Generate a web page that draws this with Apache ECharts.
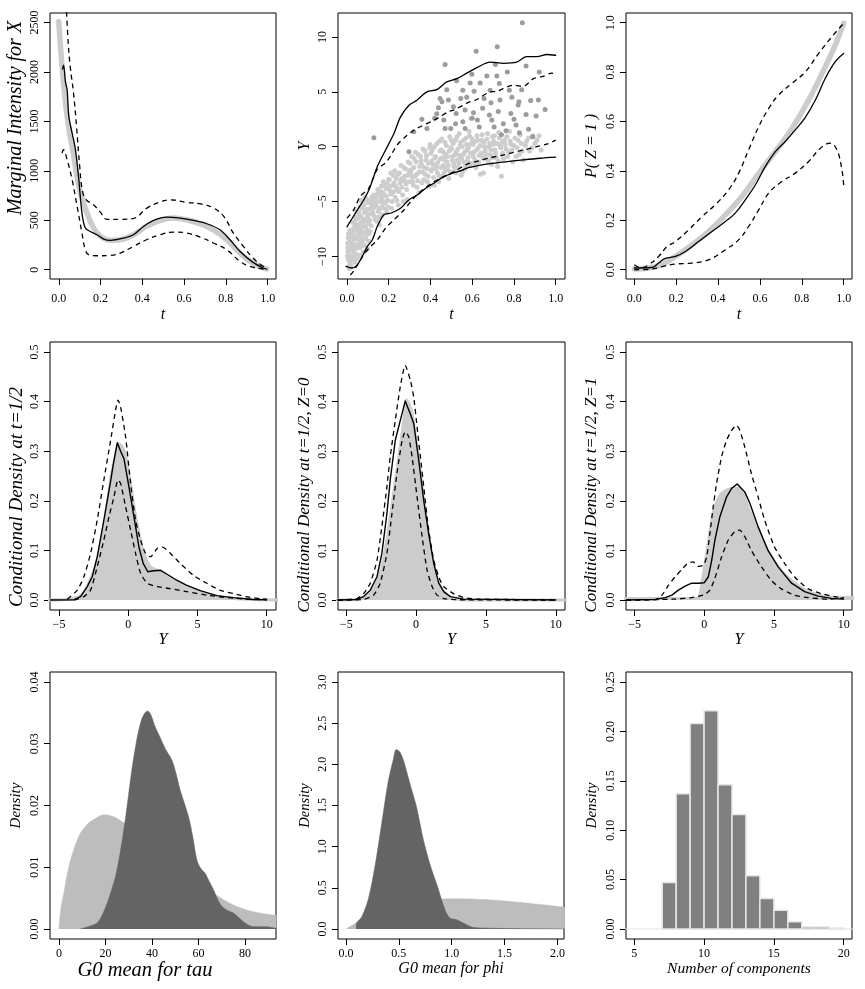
<!DOCTYPE html>
<html><head><meta charset="utf-8">
<script src="https://cdn.jsdelivr.net/npm/echarts@6/dist/echarts.min.js"></script>
<style>html,body{margin:0;padding:0;background:#fff}#c{width:865px;height:989px}</style>
</head><body><div id="c"></div>
<script>
// ---------- DATA ----------
// Panel 1: marginal intensity for X
const p1True = [[0,2510],[0.016,2055],[0.04,1550],[0.072,1145],[0.10,810],[0.135,573],[0.167,421],[0.2,337],[0.247,297],[0.295,303],[0.358,354],[0.42,438],[0.486,499],[0.55,522],[0.613,505],[0.677,465],[0.74,404],[0.804,303],[0.868,168],[0.93,67],[0.995,7]];
const p1Est = [[0.018,2030],[0.023,2070],[0.032,1900],[0.04,1820],[0.048,1550],[0.064,1381],[0.08,1213],[0.096,910],[0.111,573],[0.127,421],[0.151,387],[0.183,354],[0.215,310],[0.247,297],[0.31,320],[0.358,354],[0.406,438],[0.454,499],[0.518,532],[0.581,522],[0.645,499],[0.709,465],[0.772,404],[0.82,303],[0.868,185],[0.93,74],[0.979,17],[0.995,7]];
const p1Up = [[0.035,2700],[0.045,2300],[0.055,2050],[0.07,1800],[0.085,1450],[0.1,1050],[0.115,780],[0.135,700],[0.165,660],[0.2,580],[0.23,510],[0.3,510],[0.36,520],[0.42,620],[0.49,690],[0.535,707],[0.61,682],[0.68,665],[0.74,625],[0.79,540],[0.836,370],[0.884,236],[0.93,118],[0.975,40],[1.0,17]];
const p1Lo = [[0.016,1180],[0.022,1215],[0.04,1112],[0.064,910],[0.088,640],[0.111,371],[0.127,202],[0.143,152],[0.183,141],[0.247,145],[0.295,168],[0.358,236],[0.42,303],[0.486,354],[0.55,381],[0.613,371],[0.677,330],[0.74,270],[0.804,202],[0.868,84],[0.915,34],[0.979,7],[1.0,5]];

// Panel 2: Y vs t scatter (Z=0 light, Z=1 dark) and bands
const p2Light = [[0.003,-8.8],[0.005,-9.6],[0.007,-10.3],[0.009,-10.9],[0.011,-11.1],[0.004,-9.2],[0.013,-9.9],[0.015,-10.6],[0.006,-8.3],[0.017,-9.4],[0.019,-10.8],[0.012,-8.6],[0.008,-7.9],[0.016,-8.1],
[0.022,-8.0],[0.025,-8.7],[0.027,-9.4],[0.03,-10.1],[0.032,-7.4],[0.035,-9.0],[0.037,-10.5],[0.04,-8.4],[0.042,-7.1],[0.045,-9.8],[0.047,-8.9],[0.049,-7.7],[0.028,-6.9],[0.038,-6.4],[0.044,-5.9],
[0.052,-6.5],[0.055,-7.2],[0.057,-7.9],[0.06,-8.5],[0.062,-9.2],[0.065,-6.9],[0.067,-7.6],[0.07,-8.2],[0.072,-5.6],[0.074,-8.8],[0.076,-7.0],[0.078,-9.6],[0.058,-6.1],[0.068,-4.9],[0.079,-5.2],
[0.082,-5.3],[0.085,-6.0],[0.088,-6.7],[0.09,-7.3],[0.093,-8.0],[0.096,-5.7],[0.099,-6.4],[0.102,-7.0],[0.105,-8.6],[0.108,-4.9],[0.111,-7.7],[0.115,-6.1],[0.118,-5.4],[0.087,-4.6],[0.097,-9.3],
[0.122,-5.0],[0.126,-5.6],[0.13,-6.3],[0.134,-4.6],[0.138,-5.2],[0.142,-6.8],[0.146,-4.3],[0.15,-5.9],[0.155,-7.1],[0.158,-5.0],
[0.162,-4.1],[0.166,-4.7],[0.17,-5.4],[0.174,-3.2],[0.178,-4.4],[0.182,-5.1],[0.187,-3.8],[0.191,-6.0],[0.196,-4.9],[0.199,-3.0],
[0.203,-3.0],[0.207,-3.6],[0.212,-4.3],[0.216,-5.0],[0.221,-2.6],[0.226,-3.3],[0.231,-4.6],[0.236,-2.9],[0.241,-3.9],[0.246,-5.3],
[0.252,-2.4],[0.257,-3.0],[0.262,-3.7],[0.267,-4.4],[0.272,-1.9],[0.277,-2.7],[0.283,-3.4],[0.288,-4.8],[0.293,-1.4],[0.298,-2.2],
[0.302,-1.5],[0.307,-2.1],[0.312,-2.8],[0.318,-3.5],[0.323,-1.1],[0.328,-0.5],[0.334,-2.5],[0.339,-3.1],[0.344,-4.2],[0.348,-1.8],
[0.352,-0.9],[0.357,-1.6],[0.362,-2.3],[0.368,-3.0],[0.373,-0.4],[0.378,-1.2],[0.384,-2.0],[0.389,-2.7],[0.394,-3.6],[0.398,0.2],
[0.402,-0.6],[0.406,-1.3],[0.41,-2.0],[0.415,-2.8],[0.419,0.0],[0.424,-0.9],[0.429,-1.7],[0.434,-2.4],[0.439,-3.2],[0.443,0.5],[0.448,-1.1],
[0.452,-0.3],[0.456,-1.0],[0.461,-1.7],[0.465,-2.4],[0.469,0.4],[0.474,-0.7],[0.479,-1.4],[0.483,-2.1],[0.488,-2.9],[0.492,0.9],[0.497,-0.1],
[0.502,-0.2],[0.506,-0.9],[0.511,-1.5],[0.515,-2.2],[0.52,0.6],[0.524,-0.5],[0.529,-1.2],[0.533,-1.9],[0.538,1.2],[0.543,0.1],[0.547,-2.6],
[0.552,0.0],[0.557,-0.7],[0.561,-1.4],[0.566,-2.0],[0.571,0.8],[0.575,-0.3],[0.58,-1.0],[0.585,1.4],[0.589,-1.7],[0.594,0.3],[0.593,2.58],
[0.603,0.2],[0.608,-0.5],[0.613,-1.2],[0.618,-1.9],[0.623,1.0],[0.629,-0.1],[0.634,-0.8],[0.639,-2.5],[0.645,0.6],[0.654,-2.4],
[0.656,0.4],[0.662,-0.4],[0.668,-1.1],[0.674,1.2],[0.68,0.0],[0.686,-0.7],[0.692,-1.6],[0.697,0.9],
[0.703,0.5],[0.709,-0.3],[0.715,-1.0],[0.721,-1.8],[0.727,1.3],[0.733,0.1],[0.74,-2.7],[0.746,-0.6],
[0.754,0.6],[0.762,-0.2],[0.77,-0.9],[0.778,1.4],[0.786,0.2],[0.794,-1.4],
[0.805,0.8],[0.815,-0.1],[0.825,-0.7],[0.835,0.3],[0.845,-1.2],
[0.86,0.5],[0.875,-0.4],[0.89,1.0],[0.91,0.6],[0.93,-0.3],
[0.002,-10.0],[0.01,-9.0],[0.014,-7.6],[0.018,-8.9],[0.021,-10.2],[0.024,-9.1],[0.026,-7.7],[0.029,-8.3],[0.033,-9.7],[0.036,-8.1],[0.039,-7.0],[0.041,-9.3],[0.043,-6.6],[0.046,-8.2],[0.048,-10.2],[0.051,-7.4],[0.053,-8.9],[0.056,-6.0],[0.059,-7.5],[0.061,-9.9],[0.063,-5.5],[0.066,-8.0],[0.069,-6.4],[0.071,-9.0],[0.073,-7.3],[0.075,-5.0],[0.077,-8.4],[0.08,-6.6],[0.083,-7.8],[0.086,-9.0],[0.089,-5.8],[0.091,-8.4],[0.094,-4.8],[0.098,-7.6],[0.1,-6.1],[0.103,-5.1],[0.106,-7.9],[0.109,-6.7],[0.113,-5.7],[0.116,-7.2],[0.119,-4.6],
[0.124,-6.0],[0.128,-4.4],[0.132,-5.4],[0.136,-6.6],[0.14,-4.9],[0.144,-5.5],[0.148,-3.9],[0.152,-6.4],[0.157,-4.5],[0.161,-5.6],[0.165,-3.6],[0.169,-6.2],[0.173,-4.2],[0.177,-5.0],[0.181,-3.5],[0.185,-5.7],[0.189,-4.5],[0.193,-3.4],[0.197,-5.5],[0.205,-4.0],[0.21,-2.4],[0.214,-5.6],[0.219,-3.5],[0.224,-4.1],[0.229,-2.2],[0.234,-3.6],[0.239,-4.9],[0.244,-2.5],[0.249,-4.1],[0.255,-3.3],[0.26,-1.7],[0.265,-2.9],[0.27,-5.0],[0.275,-3.1],[0.28,-2.0],[0.286,-3.9],[0.291,-2.6],[0.296,-3.2],
[0.305,-2.4],[0.31,-0.9],[0.315,-3.2],[0.32,-1.9],[0.326,-2.7],[0.331,-1.4],[0.336,-3.7],[0.341,-0.7],[0.346,-2.3],[0.354,-1.3],[0.359,-3.3],[0.364,-0.2],[0.37,-1.9],[0.375,-2.5],[0.381,-0.8],[0.386,-3.2],[0.391,-1.5],[0.396,-0.1],[0.404,-2.2],[0.408,-0.3],[0.412,-1.6],[0.417,-3.5],[0.421,-1.0],[0.426,-2.0],[0.431,0.3],[0.436,-1.4],[0.441,-2.7],[0.446,-0.4],[0.45,-1.9],[0.454,0.7],[0.458,-2.7],[0.463,-0.5],[0.467,-1.2],[0.472,-2.0],[0.476,0.1],[0.481,-0.9],[0.486,-1.7],[0.49,-0.4],[0.495,-2.3],[0.499,0.6],[0.504,-1.2],[0.509,0.3],[0.513,-1.8],[0.518,-0.7],[0.522,-2.4],[0.527,0.9],[0.531,-0.2],[0.536,-1.5],[0.54,-0.8],[0.545,0.4],[0.55,-1.1],[0.554,-2.3],[0.559,0.6],[0.563,-0.5],[0.568,-1.7],[0.573,0.2],[0.578,-1.3],[0.582,-0.1],[0.587,1.0],[0.591,-0.6],[0.596,-1.5],
[0.6,0.7],[0.605,-0.9],[0.61,0.4],[0.615,-1.6],[0.62,-0.3],[0.626,0.6],[0.631,-1.4],[0.637,0.1],[0.642,-0.6],[0.648,1.1],[0.652,-1.0],[0.659,0.0],[0.665,-0.7],[0.671,0.7],[0.677,-1.3],[0.683,0.3],[0.689,-0.3],[0.695,-1.0],[0.7,0.2],[0.706,1.0],[0.712,-0.6],[0.718,0.3],[0.724,-1.3],[0.73,0.8],[0.737,-0.1],[0.743,0.4],[0.75,-1.1],[0.758,0.2],[0.766,0.9],[0.774,-0.5],[0.782,0.5],[0.79,-0.3],[0.8,0.1],[0.81,-0.9],[0.82,0.6],[0.83,1.1],[0.84,-0.4],[0.855,0.1],[0.87,0.8],[0.885,-0.1],[0.9,0.3],[0.92,1.0]];
const p2Dark = [[0.84,11.3],[0.72,9.1],[0.619,8.7],[0.47,7.5],[0.858,7.36],[0.711,7.5],[0.768,6.8],[0.921,6.8],[0.598,6.6],[0.67,6.45],[0.718,6.45],[0.638,5.8],[0.73,5.76],[0.555,5.15],[0.478,5.2],[0.609,5.06],[0.686,5.15],[0.778,5.15],[0.837,5.2],[0.446,4.4],[0.486,4.25],[0.574,4.5],[0.657,4.4],[0.733,4.25],[0.79,4.5],[0.824,4.1],[0.917,4.25],[0.949,3.4],[0.438,3.55],[0.51,3.64],[0.523,3.03],[0.566,3.34],[0.606,3.1],[0.682,2.88],[0.725,3.2],[0.785,3.03],[0.858,2.94],[0.906,2.8],[0.359,2.5],[0.42,2.6],[0.47,1.67],[0.497,1.67],[0.555,2.27],[0.566,1.67],[0.625,2.43],[0.634,1.8],[0.694,2.43],[0.705,1.8],[0.749,2.1],[0.762,1.45],[0.81,1.97],[0.826,1.27],[0.89,0.9],[0.129,0.82],[0.32,1.36],[0.297,-0.45],[0.383,1.67],[0.464,2.43],[0.59,5.8],[0.525,6.0],[0.455,4.1],[0.545,4.4],[0.65,3.5],[0.88,4.2],[0.82,3.8],[0.74,1.1],[0.6,2.6],[0.52,2.1],[0.43,3.0],[0.69,4.0],[0.8,2.5],[0.87,1.6]];
const p2Up = [[0,-7.3],[0.05,-5.76],[0.08,-4.85],[0.105,-3.94],[0.125,-2.9],[0.145,-1.82],[0.185,-0.3],[0.225,1.21],[0.256,2.7],[0.296,3.76],[0.335,4.24],[0.383,5.0],[0.43,5.2],[0.478,5.9],[0.526,6.2],[0.574,6.7],[0.622,7.2],[0.686,7.7],[0.75,7.6],[0.813,7.7],[0.86,8.2],[0.91,8.2],[0.957,8.4],[1.0,8.33]];
const p2Lo = [[-0.005,-10.9],[0.025,-11.05],[0.049,-10.76],[0.073,-10.0],[0.097,-9.1],[0.121,-8.5],[0.145,-7.27],[0.177,-6.2],[0.209,-6.06],[0.257,-5.6],[0.296,-4.85],[0.336,-4.4],[0.376,-3.8],[0.416,-3.33],[0.464,-2.73],[0.504,-2.42],[0.55,-2.15],[0.574,-1.95],[0.622,-1.75],[0.686,-1.55],[0.75,-1.4],[0.845,-1.2],[0.925,-1.05],[1.0,-0.95]];
const p2UpD = [[0,-6.5],[0.032,-5.76],[0.064,-4.5],[0.104,-3.8],[0.144,-2.1],[0.183,-1.5],[0.207,-0.9],[0.24,0.15],[0.28,0.9],[0.32,1.5],[0.351,1.82],[0.415,2.4],[0.446,2.73],[0.486,3.2],[0.51,3.33],[0.59,4.1],[0.622,4.3],[0.686,5.0],[0.718,5.05],[0.797,5.6],[0.845,5.5],[0.893,6.2],[0.94,6.4],[0.98,6.7],[1.0,6.6]];
const p2LoD = [[0.016,-11.7],[0.033,-11.3],[0.065,-10.3],[0.105,-9.25],[0.145,-8.5],[0.185,-7.42],[0.225,-6.67],[0.273,-5.76],[0.312,-4.85],[0.352,-4.1],[0.416,-3.2],[0.464,-2.73],[0.52,-2.2],[0.574,-1.6],[0.63,-1.3],[0.686,-1.0],[0.74,-0.8],[0.78,-0.6],[0.845,-0.3],[0.909,0.0],[0.96,0.25],[1.0,0.6]];

// Panel 3: P(Z=1)
const p3True = [[0,0.003],[0.068,0.007],[0.13,0.02],[0.196,0.054],[0.275,0.1],[0.355,0.155],[0.435,0.222],[0.514,0.296],[0.594,0.39],[0.674,0.478],[0.753,0.572],[0.833,0.687],[0.912,0.821],[0.96,0.909],[1.0,0.997]];
const p3Est = [[0,0.007],[0.084,0.009],[0.116,0.027],[0.148,0.046],[0.196,0.054],[0.244,0.074],[0.307,0.114],[0.371,0.155],[0.435,0.195],[0.482,0.229],[0.53,0.283],[0.578,0.343],[0.626,0.418],[0.674,0.478],[0.721,0.519],[0.769,0.566],[0.817,0.617],[0.865,0.687],[0.912,0.774],[0.96,0.842],[1.0,0.875]];
const p3Up = [[0,0.02],[0.03,0.008],[0.068,0.02],[0.116,0.054],[0.156,0.094],[0.196,0.114],[0.26,0.162],[0.323,0.215],[0.387,0.263],[0.45,0.323],[0.498,0.39],[0.546,0.485],[0.594,0.579],[0.642,0.653],[0.689,0.707],[0.753,0.754],[0.817,0.801],[0.88,0.875],[0.944,0.943],[1.0,0.997]];
const p3Lo = [[0,0.0],[0.084,0.003],[0.132,0.013],[0.196,0.023],[0.275,0.027],[0.355,0.04],[0.435,0.081],[0.498,0.121],[0.546,0.175],[0.594,0.242],[0.642,0.31],[0.705,0.357],[0.769,0.391],[0.833,0.438],[0.889,0.492],[0.936,0.512],[0.968,0.485],[0.992,0.404],[1.0,0.343]];

// Panel 4: conditional density at t=1/2
const p4True = [[-6,0],[-4.5,0.001],[-3.5,0.008],[-2.96,0.027],[-2.24,0.08],[-1.76,0.148],[-1.27,0.242],[-0.91,0.295],[-0.67,0.315],[-0.31,0.302],[0.05,0.255],[0.41,0.188],[0.77,0.134],[1.13,0.094],[1.6,0.067],[2.33,0.057],[3.3,0.04],[4.2,0.027],[5.2,0.017],[6.4,0.008],[7.6,0.003],[9,0.001],[11,0]];
const p4Est = [[-5.6,0],[-3.9,0.0007],[-3.44,0.007],[-2.96,0.027],[-2.6,0.047],[-2.24,0.087],[-1.76,0.161],[-1.27,0.24],[-1.1,0.27],[-0.79,0.317],[-0.55,0.3],[-0.31,0.285],[0.05,0.228],[0.41,0.168],[0.77,0.107],[1.08,0.074],[1.41,0.057],[1.84,0.059],[2.33,0.06],[2.81,0.052],[3.5,0.04],[4.2,0.03],[5.2,0.019],[6.4,0.009],[7.6,0.005],[9,0.0013],[10,0.0007]];
const p4Up = [[-4.4,0.002],[-3.68,0.02],[-3.2,0.047],[-2.72,0.094],[-2.24,0.161],[-1.76,0.242],[-1.27,0.322],[-0.91,0.383],[-0.74,0.403],[-0.55,0.389],[-0.19,0.329],[0.17,0.235],[0.53,0.161],[0.89,0.121],[1.25,0.094],[1.6,0.087],[2.09,0.104],[2.45,0.107],[3.05,0.094],[3.76,0.074],[4.7,0.05],[5.67,0.034],[6.6,0.02],[7.6,0.013],[8.5,0.007],[9.5,0.003],[10,0.002]];
const p4Lo = [[-3.9,0],[-3.2,0.007],[-2.72,0.02],[-2.24,0.067],[-1.76,0.121],[-1.39,0.168],[-1.03,0.208],[-0.74,0.242],[-0.55,0.235],[-0.19,0.188],[0.17,0.141],[0.53,0.094],[0.89,0.054],[1.37,0.034],[2.09,0.027],[3.05,0.023],[4.2,0.017],[5.67,0.01],[7.1,0.005],[8.5,0.002],[10,0.0007]];

// Panel 5: conditional density at t=1/2, Z=0
const p5True = [[-6,0],[-4.24,0.001],[-3.28,0.013],[-2.57,0.054],[-2.09,0.121],[-1.61,0.215],[-1.13,0.309],[-0.85,0.37],[-0.7,0.403],[-0.5,0.395],[-0.29,0.376],[0.19,0.282],[0.67,0.174],[1.15,0.087],[1.62,0.034],[2.2,0.01],[2.9,0.002],[4,0],[11,0]];
const p5Est = [[-5.6,0],[-4.24,0.0013],[-3.76,0.007],[-3.28,0.02],[-2.8,0.047],[-2.45,0.094],[-2.09,0.174],[-1.85,0.242],[-1.49,0.322],[-1.13,0.362],[-0.78,0.401],[-0.41,0.375],[-0.17,0.356],[0.19,0.282],[0.55,0.2],[0.9,0.134],[1.26,0.074],[1.62,0.034],[1.98,0.017],[2.45,0.007],[3.4,0.002],[10,0.0005]];
const p5Up = [[-5.6,0],[-4.24,0.003],[-3.76,0.013],[-3.28,0.034],[-2.8,0.08],[-2.45,0.148],[-2.09,0.228],[-1.85,0.289],[-1.49,0.362],[-1.13,0.43],[-0.78,0.473],[-0.41,0.443],[-0.17,0.409],[0.07,0.349],[0.31,0.289],[0.55,0.228],[0.9,0.141],[1.26,0.081],[1.62,0.047],[1.98,0.027],[2.69,0.013],[3.4,0.005],[4.36,0.002],[10,0.0005]];
const p5Lo = [[-5.6,0],[-3.76,0.0013],[-3.04,0.01],[-2.57,0.034],[-2.09,0.094],[-1.73,0.174],[-1.37,0.255],[-1.0,0.322],[-0.78,0.339],[-0.53,0.329],[-0.29,0.289],[0.07,0.208],[0.43,0.128],[0.79,0.06],[1.15,0.027],[1.5,0.01],[1.98,0.003],[2.9,0.0007],[10,0]];

// Panel 6: conditional density at t=1/2, Z=1
const p6True = [[-6,0.003],[-1,0.003],[-0.45,0.004],[-0.3,0.012],[-0.19,0.03],[0.17,0.094],[0.53,0.16],[0.76,0.188],[1.24,0.215],[1.96,0.225],[2.4,0.226],[2.67,0.221],[3.14,0.188],[3.86,0.141],[4.57,0.1],[5.5,0.06],[6.5,0.034],[7.46,0.017],[8.65,0.007],[10,0.005],[11,0.005]];
const p6Est = [[-5.6,0],[-3.5,0.0013],[-2.8,0.005],[-2.33,0.01],[-1.86,0.02],[-1.38,0.028],[-0.9,0.034],[-0.43,0.034],[0,0.035],[0.29,0.047],[0.53,0.08],[0.76,0.121],[1.12,0.168],[1.6,0.208],[1.96,0.225],[2.36,0.234],[2.67,0.225],[2.9,0.218],[3.27,0.195],[3.86,0.148],[4.57,0.1],[5.3,0.067],[6.26,0.034],[7.2,0.017],[8.17,0.008],[9.12,0.0034],[10,0.002]];
const p6Up = [[-5.6,0],[-3.5,0.001],[-3.04,0.01],[-2.57,0.03],[-2.09,0.047],[-1.61,0.062],[-1.2,0.074],[-0.8,0.077],[-0.43,0.068],[-0.07,0.07],[0.17,0.087],[0.4,0.134],[0.64,0.188],[0.88,0.235],[1.24,0.289],[1.6,0.322],[1.96,0.342],[2.31,0.352],[2.55,0.342],[2.9,0.309],[3.38,0.255],[3.86,0.208],[4.33,0.161],[5.04,0.107],[5.76,0.074],[6.47,0.047],[7.43,0.023],[8.38,0.013],[9.33,0.007],[10,0.005]];
const p6Lo = [[-5.6,0],[-2.09,0.002],[-0.9,0.005],[-0.07,0.01],[0.4,0.02],[0.76,0.044],[1.24,0.087],[1.72,0.121],[2.19,0.138],[2.55,0.141],[2.9,0.128],[3.38,0.1],[4.1,0.067],[4.8,0.04],[5.5,0.023],[6.47,0.01],[7.43,0.005],[8.9,0.002],[10,0.004]];

// Panel 7: G0 mean for tau (prior light, posterior dark)
const p7Prior = [[0,0],[0.3,0.0015],[1,0.0038],[2.1,0.0058],[3.5,0.0088],[5,0.0112],[6.5,0.013],[7.9,0.0144],[9.5,0.0157],[11.4,0.0166],[13.5,0.0174],[15.7,0.0179],[18,0.0184],[20,0.0185],[22.5,0.0183],[25,0.0179],[29.3,0.0168],[35,0.015],[40.7,0.0133],[49.3,0.0107],[57.8,0.0082],[66.4,0.0058],[75,0.0039],[83.5,0.0028],[93.5,0.0022]];
const p7Post = [[9,0],[10.7,0.0002],[13.5,0.0005],[16.4,0.001],[18.5,0.0022],[20.7,0.0042],[22.5,0.0062],[24.3,0.0085],[25.8,0.0113],[27.2,0.0144],[28.6,0.018],[30,0.022],[31.4,0.026],[32.9,0.0295],[34.3,0.0322],[35.7,0.0341],[37,0.035],[38.1,0.0353],[39.5,0.0347],[41.4,0.0327],[43.5,0.031],[45.7,0.0292],[48.6,0.0273],[50.3,0.0252],[52.1,0.0225],[55.7,0.0182],[57.5,0.015],[59.3,0.0112],[61,0.0098],[62.9,0.009],[64.5,0.0078],[66.4,0.0064],[68,0.005],[70,0.0037],[72.5,0.003],[75,0.0026],[77.5,0.0018],[80,0.001],[83.5,0.0004],[89.3,0.0004],[92.9,0.00016],[94,0.0001]];

// Panel 8: G0 mean for phi
const p8Prior = [[0,0],[0.1,0.075],[0.2,0.15],[0.3,0.22],[0.4,0.27],[0.5,0.3],[0.6,0.325],[0.7,0.345],[0.85,0.36],[1.0,0.367],[1.15,0.366],[1.3,0.358],[1.5,0.34],[1.75,0.31],[2.07,0.266]];
const p8Post = [[0.097,0],[0.098,0.06],[0.15,0.15],[0.214,0.375],[0.277,0.78],[0.34,1.3],[0.4,1.79],[0.45,2.07],[0.475,2.18],[0.51,2.15],[0.544,2.05],[0.575,1.91],[0.62,1.7],[0.67,1.47],[0.733,1.08],[0.796,0.78],[0.86,0.54],[0.937,0.234],[0.984,0.133],[1.047,0.113],[1.11,0.073],[1.19,0.024],[1.3,0.012],[1.68,0.004],[2.07,0.002]];

// Panel 9: histogram of number of components [from, to, density]
const p9Bins = [[7,8,0.047],[8,9,0.137],[9,10,0.208],[10,11,0.221],[11,12,0.146],[12,13,0.116],[13,14,0.054],[14,15,0.031],[15,16,0.019],[16,17,0.0074],[17,18,0.002],[18,19,0.002],[19,20,0.001]];

// Tick values
const ticksT = [0,0.2,0.4,0.6,0.8,1.0];
const ticksP1y = [0,500,1000,1500,2000,2500];
const ticksP2y = [-10,-5,0,5,10];
const ticksP3y = [0,0.2,0.4,0.6,0.8,1.0];
const ticksYd = [-5,0,5,10];
const ticksDens = [0,0.1,0.2,0.3,0.4,0.5];
const ticksP7x = [0,20,40,60,80];
const ticksP7y = [0,0.01,0.02,0.03,0.04];
const ticksP8x = [0,0.5,1.0,1.5,2.0];
const ticksP8y = [0,0.5,1.0,1.5,2.0,2.5,3.0];
const ticksP9x = [5,10,15,20];
const ticksP9y = [0,0.05,0.10,0.15,0.20,0.25];

// ---------- CHART ----------
const FONT = '"Liberation Serif","Times New Roman",Times,serif';
const chart = echarts.init(document.getElementById('c'), null, {renderer:'canvas'});

const gridBoxes = [
  [50,13,226,266],[338,13,227,266],[626,13,226,266],
  [50,342,226,268],[338,342,227,268],[626,342,226,268],
  [50,672,226,267],[338,672,226,267],[626,672,226,267]
];
const grids = gridBoxes.map(b => ({left:b[0], top:b[1], width:b[2], height:b[3], show:true, borderColor:'#000', borderWidth:1, backgroundColor:'transparent', containLabel:false, outerBoundsMode:'none'}));

function fmt(d){ return v => Number(v).toFixed(d).replace('-', '\u2212'); }
function xAx(i, min, max, ticks, d, name, nsize, gap, lmargin, pad){
  return {type:'value', gridIndex:i, min:min, max:max, position:'bottom',
    axisLine:{show:false, onZero:false}, splitLine:{show:false},
    axisTick:{show:true, inside:false, length:6, lineStyle:{color:'#000', width:1}, customValues:ticks},
    axisLabel:{show:true, customValues:ticks, formatter:fmt(d), fontFamily:FONT, fontSize:12, color:'#000', margin:lmargin},
    name:name, nameLocation:'middle', nameGap:gap,
    nameTextStyle:{fontFamily:FONT, fontStyle:'italic', fontSize:nsize, color:'#000', padding:pad||0}};
}
function yAx(i, min, max, ticks, d, name, nsize, gap, pad){
  return {type:'value', gridIndex:i, min:min, max:max, position:'left',
    axisLine:{show:false, onZero:false}, splitLine:{show:false},
    axisTick:{show:true, inside:false, length:6, lineStyle:{color:'#000', width:1}, customValues:ticks},
    axisLabel:{show:true, customValues:ticks, formatter:fmt(d), fontFamily:FONT, fontSize:12, color:'#000', margin:9, rotate:90},
    name:name, nameLocation:'middle', nameGap:gap, nameRotate:90,
    nameTextStyle:{fontFamily:FONT, fontStyle:'italic', fontSize:nsize, color:'#000', padding:pad||0}};
}

const xAxes = [
  xAx(0,-0.042,1.04,ticksT,1,'t',16,28,14),
  xAx(1,-0.043,1.0445,ticksT,1,'t',16,28,14),
  xAx(2,-0.04,1.04,ticksT,1,'t',16,28,14),
  xAx(3,-5.65,10.67,ticksYd,0,'Y',16,22,9),
  xAx(4,-5.59,10.66,ticksYd,0,'Y',16,22,9),
  xAx(5,-5.62,10.6,ticksYd,0,'Y',16,22,9),
  xAx(6,-3.86,93.3,ticksP7x,0,'G0 mean for tau',20.5,20,9,[0,36,0,0]),
  xAx(7,-0.075,2.062,ticksP8x,1,'G0 mean for phi',16,21,9),
  xAx(8,4.405,20.6,ticksP9x,0,'Number of components',15.5,21,9)
];
const yAxes = [
  yAx(0,-94,2597,ticksP1y,0,'Marginal Intensity for X',20,24,[0,0,0,56]),
  yAx(1,-12.05,12.18,ticksP2y,0,'Y',16,25),
  yAx(2,-0.0375,1.039,ticksP3y,1,'P( Z = 1 )',16,26),
  yAx(3,-0.02,0.52,ticksDens,1,'Conditional Density at t=1/2',19,24,[0,42,0,0]),
  yAx(4,-0.02,0.52,ticksDens,1,'Conditional Density at t=1/2, Z=0',17,25,[0,38,0,0]),
  yAx(5,-0.02,0.52,ticksDens,1,'Conditional Density at t=1/2, Z=1',17,26,[0,38,0,0]),
  yAx(6,-0.0016,0.0416,ticksP7y,2,'Density',15,26),
  yAx(7,-0.121,3.121,ticksP8y,1,'Density',14.5,25),
  yAx(8,-0.0101,0.2601,ticksP9y,2,'Density',15,26)
];

function line(i, data, color, width, dash, smooth, z){
  return {type:'line', xAxisIndex:i, yAxisIndex:i, data:data, showSymbol:false, symbol:'none',
    smooth:smooth, clip:true, z:z||2, silent:true,
    lineStyle:{color:color, width:width, type:dash ? [5,4] : 'solid', cap: dash ? 'butt' : 'round', join:'round'}};
}
function area(i, data, fill, lineColor, lineWidth, smooth, z, opacity){
  return {type:'line', xAxisIndex:i, yAxisIndex:i, data:data, showSymbol:false, symbol:'none',
    smooth:smooth, clip:true, z:z||1, silent:true,
    lineStyle:{color:lineColor, width:lineWidth},
    areaStyle:{color:fill, opacity:opacity==null?1:opacity, origin:0}};
}
function scatter(i, data, color){
  return {type:'scatter', xAxisIndex:i, yAxisIndex:i, data:data, symbol:'circle', symbolSize:5, silent:true, z:1,
    itemStyle:{color:color, opacity:1}};
}

const GRAY = '#cccccc';
const series = [
  // panel 1
  line(0,p1True,GRAY,5.5,false,0.4,1),
  line(0,p1Est,'#000',1.3,false,0.3,3),
  line(0,p1Up,'#000',1.3,true,0.4,3),
  line(0,p1Lo,'#000',1.3,true,0.4,3),
  // panel 2
  scatter(1,p2Light,'#cdcdcd'),
  scatter(1,p2Dark,'#9c9c9c'),
  line(1,p2Up,'#000',1.3,false,0.3,3),
  line(1,p2Lo,'#000',1.3,false,0.3,3),
  line(1,p2UpD,'#000',1.3,true,0.3,3),
  line(1,p2LoD,'#000',1.3,true,0.3,3),
  // panel 3
  line(2,p3True,GRAY,5.5,false,0.4,1),
  line(2,p3Est,'#000',1.3,false,0.4,3),
  line(2,p3Up,'#000',1.3,true,0.4,3),
  line(2,p3Lo,'#000',1.3,true,0.4,3),
  // panel 4
  area(3,p4True,GRAY,GRAY,3,0.3,1),
  line(3,p4Est,'#000',1.4,false,false,3),
  line(3,p4Up,'#000',1.3,true,0.2,3),
  line(3,p4Lo,'#000',1.3,true,0.2,3),
  // panel 5
  area(4,p5True,GRAY,GRAY,3,0.3,1),
  line(4,p5Est,'#000',1.4,false,false,3),
  line(4,p5Up,'#000',1.3,true,0.2,3),
  line(4,p5Lo,'#000',1.3,true,0.2,3),
  // panel 6
  area(5,p6True,GRAY,GRAY,3,0.3,1),
  line(5,p6Est,'#000',1.4,false,false,3),
  line(5,p6Up,'#000',1.3,true,0.2,3),
  line(5,p6Lo,'#000',1.3,true,0.2,3),
  // panel 7
  area(6,p7Prior,'#bdbdbd','#bdbdbd',0.5,0.3,1),
  area(6,p7Post,'#646464','#646464',0.5,0.3,2),
  // panel 8
  area(7,p8Prior,'#bdbdbd','#bdbdbd',0.5,0.3,1),
  area(7,p8Post,'#646464','#646464',0.5,0.3,2),
  // panel 9
  {type:'line', xAxisIndex:8, yAxisIndex:8, data:[[4,0],[21,0]], showSymbol:false, symbol:'none', silent:true, z:1,
    lineStyle:{color:'#e4e4e4', width:1.2}},
  {type:'custom', xAxisIndex:8, yAxisIndex:8, data:p9Bins, silent:true, z:2,
    encode:{x:[0,1], y:2},
    renderItem:function(params, api){
      const p0 = api.coord([api.value(0), api.value(2)]);
      const p1 = api.coord([api.value(1), 0]);
      return {type:'rect', shape:{x:p0[0], y:p0[1], width:p1[0]-p0[0], height:p1[1]-p0[1]},
        style:{fill:'#808080', stroke:'#e6e6e6', lineWidth:1.5}};
    }}
];

chart.setOption({animation:false, backgroundColor:'#fff', grid:grids, xAxis:xAxes, yAxis:yAxes, series:series});
</script></body></html>
